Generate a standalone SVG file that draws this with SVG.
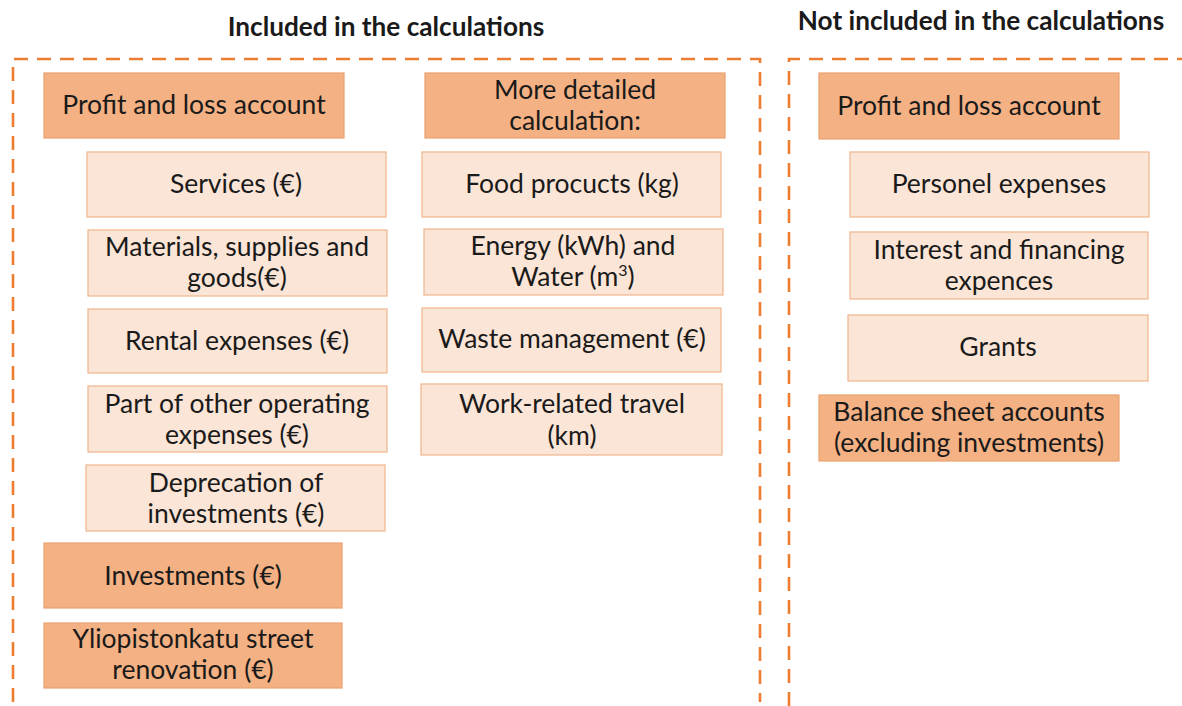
<svg xmlns="http://www.w3.org/2000/svg" width="1182" height="706" viewBox="0 0 1182 706">
<style>
.frame{fill:none;stroke:#ED7D31;stroke-width:2.6;stroke-dasharray:14 9}
.dark rect{fill:#F4B183;stroke:#E9A070;stroke-width:1.2}
.light rect{fill:#FBE5D6;stroke:#F1B48C;stroke-width:1.2}
text{font-family:Lato,"Open Sans","Noto Sans",sans-serif;font-size:26.5px;fill:#1a1a1a;text-anchor:middle}
.title{font-weight:bold;font-size:26.2px}
</style>
<rect width="1182" height="706" fill="#ffffff"/>
<text class="title" x="386" y="36">Included in the calculations</text>
<text class="title" x="981" y="30">Not included in the calculations</text>
<g id="frames">
<path class="frame" d="M13,702 V59 H760 V702"/>
<path class="frame" d="M789,706 V59 H1190"/>
</g>
<g id="pl-left" class="dark"><rect x="44" y="73" width="300" height="65"/><text x="194" y="114">Profit and loss account</text></g>
<g id="services" class="light"><rect x="87" y="152" width="299" height="65"/><text x="236" y="193">Services (€)</text></g>
<g id="materials" class="light"><rect x="88" y="230" width="299" height="66"/><text x="237" y="256">Materials, supplies and</text><text x="237" y="287">goods(€)</text></g>
<g id="rental" class="light"><rect x="88" y="309" width="299" height="64"/><text x="237" y="350">Rental expenses (€)</text></g>
<g id="other" class="light"><rect x="88" y="386" width="299" height="66"/><text x="237" y="413">Part of other operating</text><text x="237" y="444">expenses (€)</text></g>
<g id="deprecation" class="light"><rect x="86" y="465" width="299" height="66"/><text x="236" y="492">Deprecation of</text><text x="236" y="523">investments (€)</text></g>
<g id="investments" class="dark"><rect x="44" y="543" width="298" height="65"/><text x="193" y="585">Investments (€)</text></g>
<g id="yliopistonkatu" class="dark"><rect x="44" y="623" width="298" height="65"/><text x="193" y="648">Yliopistonkatu street</text><text x="193" y="679">renovation (€)</text></g>
<g id="detailed" class="dark"><rect x="425" y="73" width="300" height="65"/><text x="575" y="99">More detailed</text><text x="575" y="130">calculation:</text></g>
<g id="food" class="light"><rect x="422" y="152" width="299" height="65"/><text x="572" y="193">Food procucts (kg)</text></g>
<g id="energy" class="light"><rect x="424" y="229" width="299" height="66"/><text x="573" y="255">Energy (kWh) and</text><text x="573" y="286">Water (m<tspan font-size="16" dy="-10">3</tspan><tspan dy="10">)</tspan></text></g>
<g id="waste" class="light"><rect x="422" y="308" width="299" height="64"/><text x="572" y="348">Waste management (€)</text></g>
<g id="travel" class="light"><rect x="421" y="384" width="301" height="71"/><text x="572" y="413">Work-related travel</text><text x="572" y="445">(km)</text></g>
<g id="pl-right" class="dark"><rect x="819" y="73" width="300" height="66"/><text x="969" y="115">Profit and loss account</text></g>
<g id="personel" class="light"><rect x="850" y="152" width="299" height="65"/><text x="999" y="193">Personel expenses</text></g>
<g id="interest" class="light"><rect x="850" y="232" width="298" height="67"/><text x="999" y="259">Interest and financing</text><text x="999" y="290">expences</text></g>
<g id="grants" class="light"><rect x="848" y="315" width="300" height="66"/><text x="998" y="356">Grants</text></g>
<g id="balance" class="dark"><rect x="819" y="395" width="300" height="66"/><text x="969" y="421">Balance sheet accounts</text><text x="969" y="452">(excluding investments)</text></g>
</svg>
